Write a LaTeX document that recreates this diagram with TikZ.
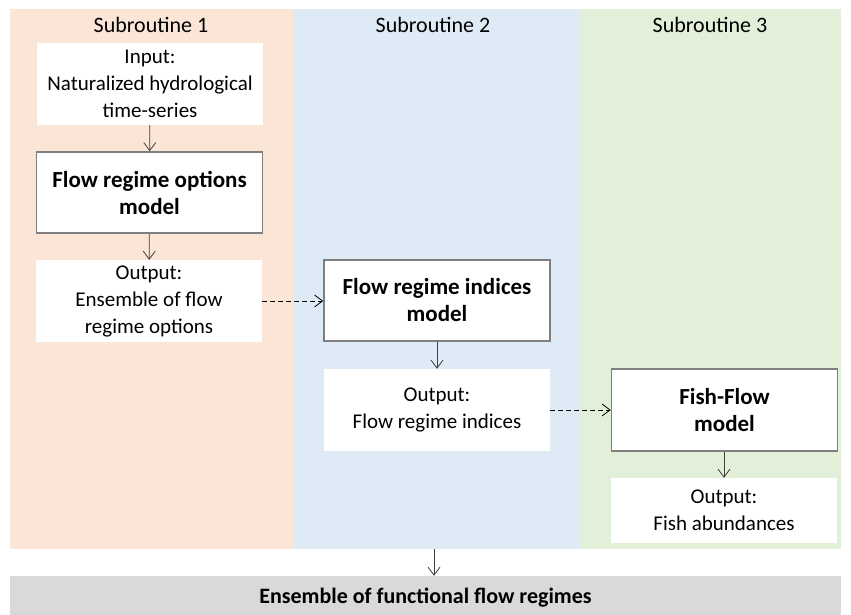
\documentclass[tikz,border=0pt]{standalone}
\usepackage{fontspec}
\setmainfont{Carlito}
\usepackage{xcolor}
\usepackage{tikz}
\usetikzlibrary{arrows.meta, positioning, calc}

\definecolor{subpeach}{HTML}{FBE5D6}
\definecolor{subblue}{HTML}{DEEBF7}
\definecolor{subgreen}{HTML}{E2F0D9}
\definecolor{resultgray}{HTML}{D9D9D9}
\definecolor{boxline}{HTML}{7F7F7F}

\begin{document}
\begin{tikzpicture}[
    x=1pt, y=-1pt,
    font=\fontsize{21}{27}\selectfont,
    header/.style={font=\fontsize{22}{27}\selectfont, inner sep=0pt},
    iobox/.style={fill=white, minimum width=226pt, minimum height=82pt, inner sep=0pt, align=center},
    modelbox/.style={iobox, draw=boxline, line width=1.6pt, font=\fontsize{23}{27}\selectfont\bfseries},
    resultbox/.style={fill=resultgray, minimum width=831pt, minimum height=44pt, inner sep=0pt, font=\fontsize{22}{27}\selectfont\bfseries},
    arrow/.style={-{Straight Barb[length=8pt, width=12pt]}, line width=0.8pt, color=black!75},
    dasharrow/.style={arrow, color=black, dash pattern=on 5pt off 3pt}
]
\useasboundingbox (0,0) rectangle (851,615);

% === PANELS ===
\fill[subpeach] (10,9) rectangle (293,549);
\fill[subblue] (293,9) rectangle (579,549);
\fill[subgreen] (579,9) rectangle (841,549);

% === HEADERS ===
\node[header] (head1) at (151,25) {Subroutine 1};
\node[header] (head2) at (433,25) {Subroutine 2};
\node[header] (head3) at (710,25) {Subroutine 3};

% === SUBROUTINE 1 ===
\node[iobox] (input) at (150,84) {Input:\\Naturalized hydrological\\time-series};
\node[modelbox, minimum height=81pt] (optmodel) at (149.5,192.5) {Flow regime options\\model};
\node[iobox] (ensemble) at (149,301) {Output:\\Ensemble of flow\\regime options};

% === SUBROUTINE 2 ===
\node[modelbox, minimum height=81pt] (idxmodel) at (437,300.5) {Flow regime indices\\model};
\node[iobox] (indices) at (437,410) {Output:\\Flow regime indices};

% === SUBROUTINE 3 ===
\node[modelbox] (fishmodel) at (724.5,410) {Fish-Flow\\model};
\node[iobox, minimum height=65pt] (fish) at (724,510.5) {Output:\\Fish abundances};

% === RESULT ===
\node[resultbox] (result) at (425.5,598) {Ensemble of functional flow regimes};
\coordinate (panelbot) at (434,549);

% === ARROWS ===
\draw[arrow] (input) -- (optmodel);
\draw[arrow] (optmodel) -- (ensemble);
\draw[arrow] (idxmodel) -- (indices);
\draw[arrow] (fishmodel.south -| fish.north) -- (fish.north);
\draw[dasharrow] (ensemble.east) -- (ensemble.east -| idxmodel.west);
\draw[dasharrow] (indices.east) -- (indices.east -| fishmodel.west);
\draw[arrow] (panelbot) -- (panelbot |- result.north);

\end{tikzpicture}
\end{document}
